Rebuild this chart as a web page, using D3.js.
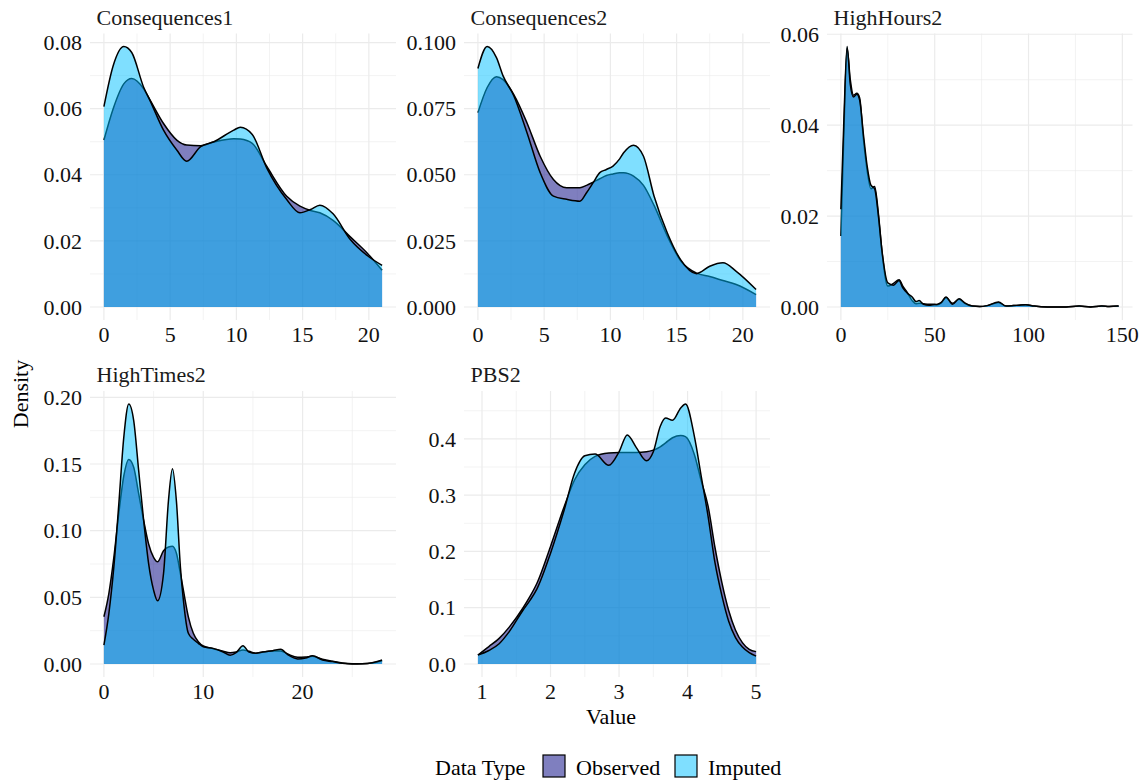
<!DOCTYPE html>
<html>
<head>
<meta charset="utf-8">
<script src="https://cdn.jsdelivr.net/npm/d3@7"></script>
<style>
  body { margin: 0; background: #fff; }
  text { font-family: "Liberation Serif", "Times New Roman", serif; }
</style>
</head>
<body>
<div id="chart"></div>
<script>
// ---- data ----
var panelNames = ["Consequences1", "Consequences2", "HighHours2", "HighTimes2", "PBS2"];
var typeNames = ["Observed", "Imputed"];

var cons1X        = [0, 0.7, 1.5, 2.1, 3, 3.5, 4.5, 5.5, 6.25, 7.3, 8.3, 9.8, 10.3, 11.2, 12.3, 13.8, 14.8, 15.6, 16.3, 17.3, 18.6, 19.9, 21];
var cons1Observed = [0.0505, 0.060, 0.0675, 0.0691, 0.066, 0.0625, 0.0555, 0.0505, 0.049, 0.0488, 0.0499, 0.0509, 0.0508, 0.0495, 0.0425, 0.0335, 0.0305, 0.0292, 0.0285, 0.0262, 0.0212, 0.0162, 0.0111];
var cons1Imputed  = [0.0606, 0.073, 0.0788, 0.077, 0.0665, 0.0623, 0.0535, 0.0475, 0.0441, 0.0485, 0.0500, 0.0535, 0.0544, 0.0522, 0.0420, 0.0325, 0.0285, 0.0295, 0.0308, 0.0282, 0.0204, 0.0155, 0.0126];

var cons2X        = [0, 0.7, 1.4, 1.9, 2.7, 3.7, 4.7, 5.7, 6.7, 7.7, 8.2, 8.7, 9.2, 9.7, 10.2, 10.7, 11.0, 11.75, 12.5, 13.3, 14.3, 15.3, 16.5, 17.5, 18.5, 19.5, 21];
var cons2Observed = [0.0735, 0.083, 0.0871, 0.086, 0.0804, 0.0697, 0.057, 0.0482, 0.0451, 0.0451, 0.046, 0.0472, 0.0485, 0.0497, 0.0503, 0.0508, 0.0508, 0.0495, 0.046, 0.0384, 0.0268, 0.0175, 0.0128, 0.0115, 0.0100, 0.0085, 0.0047];
var cons2Imputed  = [0.0902, 0.0985, 0.0943, 0.0874, 0.080, 0.066, 0.0508, 0.0419, 0.0407, 0.0400, 0.0432, 0.047, 0.0508, 0.052, 0.0533, 0.056, 0.0583, 0.0612, 0.057, 0.0419, 0.028, 0.0179, 0.0126, 0.0154, 0.0167, 0.0135, 0.0066];

var hoursX        = [0, 1.5, 3.3, 5, 6.7, 8.5, 10, 12, 14, 16, 18, 20, 22, 25, 28, 31, 33, 35.5, 38, 40, 41.7, 44, 47, 49, 51.5, 53.5, 56, 59.5, 63, 66, 70, 74, 78, 84, 88, 92, 95, 98.5, 103, 110, 120, 127, 133, 139, 143, 148];
var hoursObserved = [0.0156, 0.037, 0.0569, 0.050, 0.0466, 0.0470, 0.046, 0.037, 0.030, 0.026, 0.0265, 0.0205, 0.0118, 0.0046, 0.0052, 0.006, 0.0046, 0.0031, 0.0014, 0.0007, 0.0008, 0.0007, 0.0006, 0.0006, 0.0005, 0.0009, 0.0021, 0.0008, 0.0017, 0.0008, 0.0002, 0.0001, 0.0003, 0.0010, 0.0002, 0.0003, 0.0004, 0.0005, 0.0002, 0, 0, 0.0002, 0, 0.0002, 0.0001, 0.0002];
var hoursImputed  = [0.0215, 0.040, 0.0573, 0.049, 0.0462, 0.0468, 0.0455, 0.038, 0.031, 0.0268, 0.026, 0.020, 0.012, 0.0053, 0.0048, 0.0058, 0.0042, 0.0030, 0.0022, 0.0012, 0.0014, 0.0006, 0.0004, 0.0005, 0.0006, 0.0010, 0.0022, 0.0006, 0.0018, 0.0009, 0.0002, 0.0001, 0.0003, 0.0011, 0.0002, 0.0003, 0.0004, 0.0005, 0.0002, 0, 0, 0.0002, 0, 0.0002, 0.0001, 0.0002];

var timesX        = [0, 0.5, 1, 1.5, 2, 2.5, 3, 3.5, 4, 4.5, 5, 5.4, 6, 6.5, 6.9, 7.3, 7.7, 8, 8.5, 9, 9.5, 10, 11, 12, 12.7, 13.3, 14, 14.6, 15.3, 16, 17, 17.8, 18.5, 19.5, 20.3, 21, 22, 23, 24, 25, 26, 27, 28];
var timesObserved = [0.0354, 0.053, 0.08, 0.113, 0.141, 0.1534, 0.1476, 0.1277, 0.1077, 0.09, 0.08, 0.0766, 0.085, 0.0878, 0.0883, 0.083, 0.0678, 0.0554, 0.0354, 0.023, 0.0167, 0.0135, 0.0115, 0.0095, 0.0085, 0.009, 0.0105, 0.0095, 0.008, 0.009, 0.0098, 0.0098, 0.0075, 0.005, 0.0052, 0.0058, 0.0035, 0.002, 0.0008, 0.0002, 0.0002, 0.0008, 0.0025];
var timesImputed  = [0.0142, 0.038, 0.0728, 0.12, 0.17, 0.195, 0.1825, 0.145, 0.1077, 0.0753, 0.0554, 0.0474, 0.0678, 0.1227, 0.1464, 0.122, 0.0728, 0.0479, 0.023, 0.0185, 0.0155, 0.013, 0.0117, 0.009, 0.0065, 0.0085, 0.0137, 0.009, 0.008, 0.009, 0.010, 0.011, 0.007, 0.0038, 0.0045, 0.0062, 0.003, 0.0018, 0.0005, 0.0, 0.0002, 0.001, 0.003];

var pbsX          = [0.94, 1.1, 1.25, 1.4, 1.6, 1.7, 1.8, 2.0, 2.2, 2.35, 2.5, 2.65, 2.85, 3.0, 3.12, 3.25, 3.4, 3.5, 3.6, 3.68, 3.78, 3.9, 3.97, 4.1, 4.2, 4.3, 4.4, 4.5, 4.6, 4.7, 4.8, 4.9, 5.0];
var pbsObserved   = [0.016, 0.031, 0.0456, 0.066, 0.100, 0.120, 0.143, 0.209, 0.28, 0.327, 0.354, 0.369, 0.375, 0.376, 0.376, 0.376, 0.377, 0.380, 0.386, 0.393, 0.402, 0.406, 0.404, 0.372, 0.325, 0.280, 0.207, 0.145, 0.095, 0.060, 0.038, 0.026, 0.022];
var pbsImputed    = [0.016, 0.024, 0.036, 0.058, 0.096, 0.113, 0.133, 0.197, 0.274, 0.339, 0.370, 0.373, 0.353, 0.377, 0.407, 0.385, 0.361, 0.377, 0.422, 0.437, 0.433, 0.455, 0.462, 0.404, 0.333, 0.262, 0.180, 0.122, 0.076, 0.047, 0.030, 0.020, 0.014];

// tick values and labels
var cons1XTicks = [0, 5, 10, 15, 20];
var cons1YTicks = [0, 0.02, 0.04, 0.06, 0.08];
var cons1YLabels = ["0.00", "0.02", "0.04", "0.06", "0.08"];
var cons2XTicks = [0, 5, 10, 15, 20];
var cons2YTicks = [0, 0.025, 0.05, 0.075, 0.1];
var cons2YLabels = ["0.000", "0.025", "0.050", "0.075", "0.100"];
var hoursXTicks = [0, 50, 100, 150];
var hoursYTicks = [0, 0.02, 0.04, 0.06];
var hoursYLabels = ["0.00", "0.02", "0.04", "0.06"];
var timesXTicks = [0, 10, 20];
var timesYTicks = [0, 0.05, 0.1, 0.15, 0.2];
var timesYLabels = ["0.00", "0.05", "0.10", "0.15", "0.20"];
var pbsXTicks = [1, 2, 3, 4, 5];
var pbsYTicks = [0, 0.1, 0.2, 0.3, 0.4];
var pbsYLabels = ["0.0", "0.1", "0.2", "0.3", "0.4"];

// ---- layout ----
var W = 1143, H = 782;
var colX = [[90, 396], [464, 770], [827, 1132.5]];
var rowY = [[33.5, 320], [391, 677]];
var fillColor = { Observed: "#000080", Imputed: "#00BFFF" };
var keyColor = { Observed: "#7F7FBF", Imputed: "#7FDFFF" };
var gridColor = "#EBEBEB";

var panels = [
  { name: panelNames[0], col: 0, row: 0, x: cons1X, obs: cons1Observed, imp: cons1Imputed, xt: cons1XTicks, yt: cons1YTicks, yl: cons1YLabels },
  { name: panelNames[1], col: 1, row: 0, x: cons2X, obs: cons2Observed, imp: cons2Imputed, xt: cons2XTicks, yt: cons2YTicks, yl: cons2YLabels },
  { name: panelNames[2], col: 2, row: 0, x: hoursX, obs: hoursObserved, imp: hoursImputed, xt: hoursXTicks, yt: hoursYTicks, yl: hoursYLabels },
  { name: panelNames[3], col: 0, row: 1, x: timesX, obs: timesObserved, imp: timesImputed, xt: timesXTicks, yt: timesYTicks, yl: timesYLabels },
  { name: panelNames[4], col: 1, row: 1, x: pbsX, obs: pbsObserved, imp: pbsImputed, xt: pbsXTicks, yt: pbsYTicks, yl: pbsYLabels }
];

var svg = d3.select("#chart").append("svg")
  .attr("width", W)
  .attr("height", H);

function minorOf(ticks, domain) {
  var step = ticks[1] - ticks[0];
  var out = [];
  for (var i = -1; i < ticks.length; i++) {
    var m = ticks[0] + step * (i + 0.5);
    if (m >= domain[0] && m <= domain[1]) out.push(m);
  }
  return out;
}

panels.forEach(function(p) {
  var x0 = colX[p.col][0], x1 = colX[p.col][1];
  var y0 = rowY[p.row][0], y1 = rowY[p.row][1];

  var xmin = d3.min(p.x), xmax = d3.max(p.x);
  var xpad = (xmax - xmin) * 0.05;
  var ymax = Math.max(d3.max(p.obs), d3.max(p.imp));
  var x = d3.scaleLinear().domain([xmin - xpad, xmax + xpad]).range([x0, x1]);
  var y = d3.scaleLinear().domain([-ymax * 0.05, ymax * 1.05]).range([y1, y0]);

  var g = svg.append("g").attr("class", "panel");

  // grid
  var grid = g.append("g").attr("class", "grid");
  minorOf(p.yt, y.domain()).forEach(function(v) {
    grid.append("line").attr("x1", x0).attr("x2", x1).attr("y1", y(v)).attr("y2", y(v))
      .attr("stroke", gridColor).attr("stroke-width", 0.6);
  });
  minorOf(p.xt, x.domain()).forEach(function(v) {
    grid.append("line").attr("x1", x(v)).attr("x2", x(v)).attr("y1", y0).attr("y2", y1)
      .attr("stroke", gridColor).attr("stroke-width", 0.6);
  });
  p.yt.forEach(function(v) {
    grid.append("line").attr("x1", x0).attr("x2", x1).attr("y1", y(v)).attr("y2", y(v))
      .attr("stroke", gridColor).attr("stroke-width", 1.2);
  });
  p.xt.forEach(function(v) {
    grid.append("line").attr("x1", x(v)).attr("x2", x(v)).attr("y1", y0).attr("y2", y1)
      .attr("stroke", gridColor).attr("stroke-width", 1.2);
  });

  // densities: observed first, imputed on top
  var area = d3.area()
    .x(function(d) { return x(d[0]); })
    .y0(y(0))
    .y1(function(d) { return y(d[1]); })
    .curve(d3.curveMonotoneX);
  var line = d3.line()
    .x(function(d) { return x(d[0]); })
    .y(function(d) { return y(d[1]); })
    .curve(d3.curveMonotoneX);

  [["Observed", p.obs], ["Imputed", p.imp]].forEach(function(s) {
    var pts = p.x.map(function(v, i) { return [v, s[1][i]]; });
    g.append("path")
      .datum(pts)
      .attr("d", area)
      .attr("fill", fillColor[s[0]])
      .attr("fill-opacity", 0.5);
    g.append("path")
      .datum(pts)
      .attr("d", line)
      .attr("fill", "none")
      .attr("stroke", "#000")
      .attr("stroke-width", 1.5);
  });

  // axes labels
  g.selectAll(".ylab").data(p.yt).enter().append("text")
    .attr("x", x0 - 8)
    .attr("y", function(d) { return y(d); })
    .attr("dy", "0.35em")
    .attr("text-anchor", "end")
    .attr("font-size", 22)
    .attr("fill", "#111")
    .text(function(d, i) { return p.yl[i]; });

  g.selectAll(".xlab").data(p.xt).enter().append("text")
    .attr("x", function(d) { return x(d); })
    .attr("y", y1 + 22)
    .attr("text-anchor", "middle")
    .attr("font-size", 22)
    .attr("fill", "#111")
    .text(function(d) { return d; });

  // strip
  g.append("text")
    .attr("x", x0 + 6.5)
    .attr("y", y0 - 9)
    .attr("font-size", 22)
    .attr("fill", "#1A1A1A")
    .text(p.name);
});

// axis titles
svg.append("text")
  .attr("x", 611).attr("y", 724)
  .attr("text-anchor", "middle")
  .attr("font-size", 22)
  .text("Value");
svg.append("text")
  .attr("transform", "translate(28,394) rotate(-90)")
  .attr("text-anchor", "middle")
  .attr("font-size", 22)
  .text("Density");

// legend
var leg = svg.append("g").attr("class", "legend");
leg.append("text").attr("x", 435).attr("y", 775).attr("font-size", 22).text("Data Type");
var keyX = [543, 675];
typeNames.forEach(function(t, i) {
  leg.append("rect")
    .attr("x", keyX[i]).attr("y", 755)
    .attr("width", 22).attr("height", 22)
    .attr("fill", keyColor[t])
    .attr("stroke", "#000")
    .attr("stroke-width", 1.2);
  leg.append("text")
    .attr("x", keyX[i] + 33).attr("y", 775)
    .attr("font-size", 22)
    .text(t);
});
</script>
</body>
</html>
